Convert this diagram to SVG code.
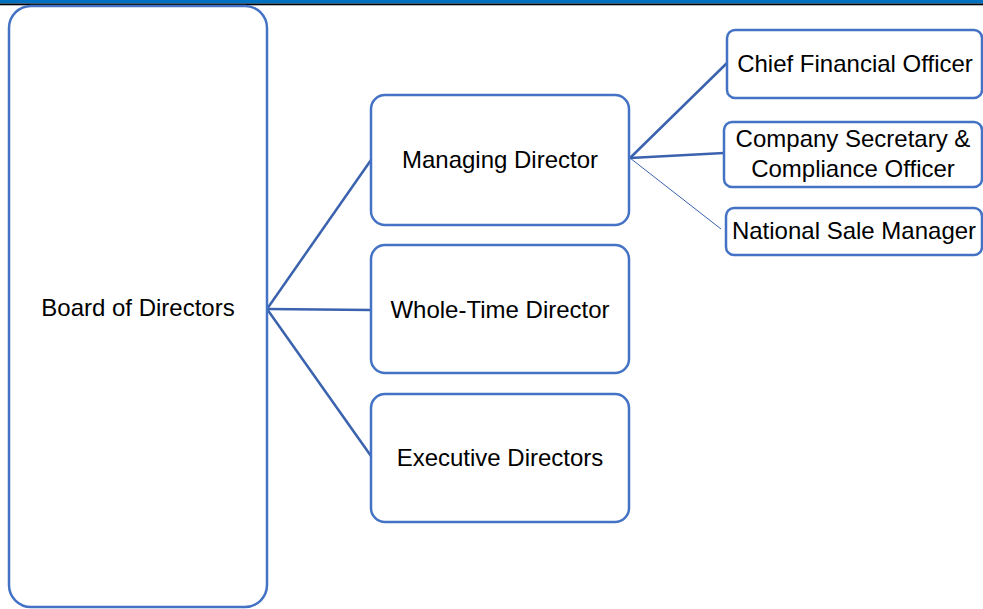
<svg xmlns="http://www.w3.org/2000/svg" width="983" height="609" viewBox="0 0 983 609">
<style>
.box{fill:#fff;stroke:#4472C4;stroke-width:2.5}
.t{font-family:"Liberation Sans",Arial,sans-serif;font-size:24px;fill:#000;text-anchor:middle}
.c{stroke:#3A62AE;stroke-width:2.5;fill:none}
</style>
<rect x="0" y="0" width="983" height="609" fill="#fff"/>
<rect x="0" y="0" width="983" height="3.5" fill="#0070C0"/>
<rect x="0" y="3.5" width="983" height="1.8" fill="#000"/>
<g id="connectors">
<line class="c" x1="267" y1="309" x2="371" y2="160"/>
<line class="c" x1="267" y1="309" x2="371" y2="310"/>
<line class="c" x1="267" y1="309" x2="371" y2="456"/>
<line class="c" x1="630" y1="158" x2="727" y2="63"/>
<line class="c" x1="630" y1="158" x2="724" y2="153"/>
<line class="c" x1="630" y1="158" x2="721" y2="229" style="stroke-width:1"/>
</g>
<g id="board"><rect class="box" x="9" y="6" width="258" height="601" rx="22"/><text class="t" x="138" y="316">Board of Directors</text></g>
<g id="md"><rect class="box" x="371" y="95" width="258" height="130" rx="14"/><text class="t" x="500" y="168">Managing Director</text></g>
<g id="wtd"><rect class="box" x="371" y="245" width="258" height="128" rx="14"/><text class="t" x="500" y="318">Whole-Time Director</text></g>
<g id="ed"><rect class="box" x="371" y="394" width="258" height="128" rx="14"/><text class="t" x="500" y="466">Executive Directors</text></g>
<g id="cfo"><rect class="box" x="727" y="30" width="255" height="68" rx="8"/><text class="t" x="855" y="72">Chief Financial Officer</text></g>
<g id="cs"><rect class="box" x="724" y="122" width="258" height="65" rx="8"/><text class="t" x="853" y="147">Company Secretary &amp;</text><text class="t" x="853" y="177">Compliance Officer</text></g>
<g id="nsm"><rect class="box" x="726" y="208" width="256" height="47" rx="8"/><text class="t" x="854" y="239">National Sale Manager</text></g>
</svg>
